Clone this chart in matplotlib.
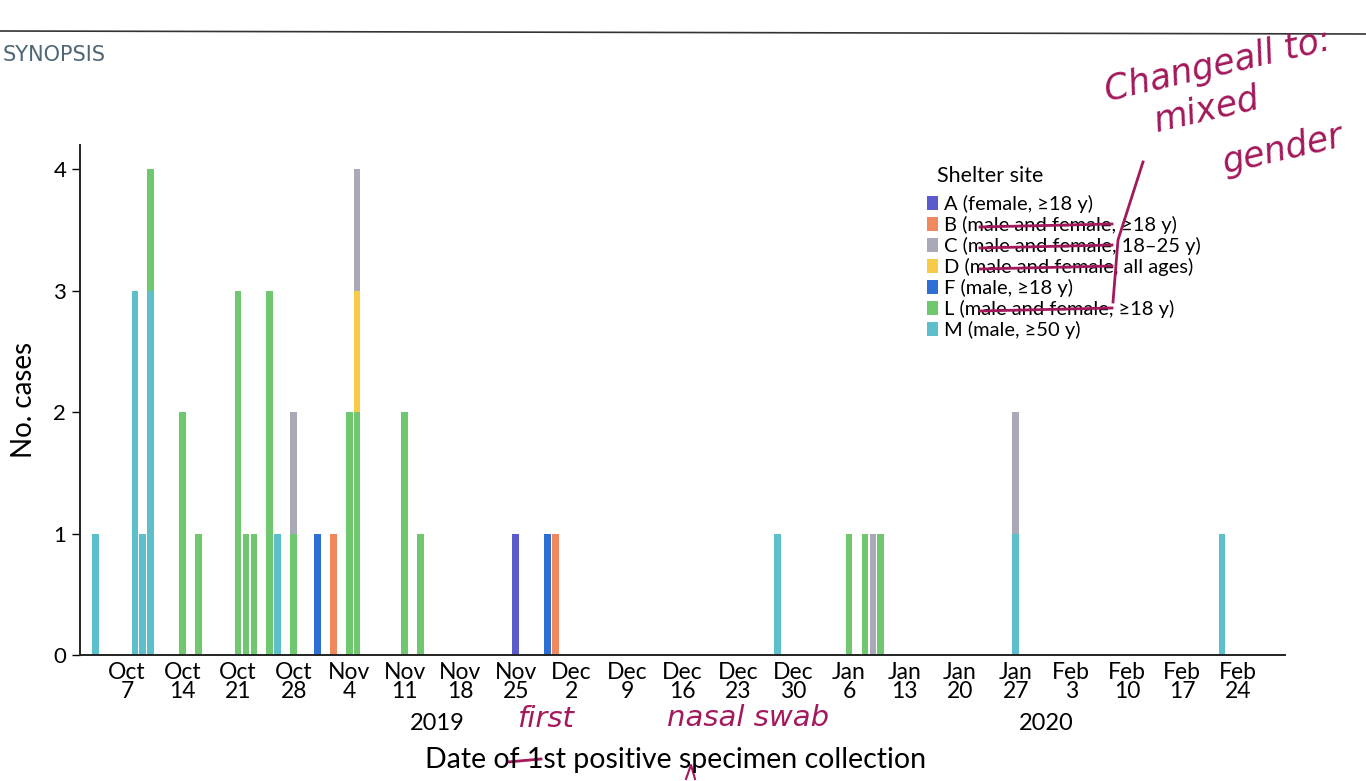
import matplotlib
matplotlib.use("Agg")
import matplotlib.pyplot as plt
import matplotlib.dates as mdates
import numpy as np
import pandas as pd

plt.rcParams['font.family'] = ['Lato', 'DejaVu Sans']

# shelter sites (legend order)
sites = ['A', 'B', 'C', 'D', 'F', 'L', 'M']
site_labels = ['A (female, \u226518 y)', 'B (male and female, \u226518 y)',
               'C (male and female, 18\u201325 y)', 'D (male and female, all ages)',
               'F (male, \u226518 y)', 'L (male and female, \u226518 y)', 'M (male, \u226550 y)']
site_colors = ['#5b5bcc', '#f0885e', '#a9a9b7', '#f7ca4a', '#2e6fd6', '#6fc86f', '#5cbfcb']

# one entry per case day: date, and cases per site
dates = ['2019-10-03', '2019-10-08', '2019-10-09', '2019-10-10', '2019-10-14',
         '2019-10-16', '2019-10-21', '2019-10-22', '2019-10-23', '2019-10-25',
         '2019-10-26', '2019-10-28', '2019-10-31', '2019-11-02', '2019-11-04',
         '2019-11-05', '2019-11-11', '2019-11-13', '2019-11-25', '2019-11-29',
         '2019-11-30', '2019-12-28', '2020-01-06', '2020-01-08', '2020-01-09',
         '2020-01-10', '2020-01-27', '2020-02-22']
cases_A = [0, 0, 0, 0, 0, 0, 0, 0, 0, 0, 0, 0, 0, 0, 0, 0, 0, 0, 1, 0, 0, 0, 0, 0, 0, 0, 0, 0]
cases_B = [0, 0, 0, 0, 0, 0, 0, 0, 0, 0, 0, 0, 0, 1, 0, 0, 0, 0, 0, 0, 1, 0, 0, 0, 0, 0, 0, 0]
cases_C = [0, 0, 0, 0, 0, 0, 0, 0, 0, 0, 0, 1, 0, 0, 0, 1, 0, 0, 0, 0, 0, 0, 0, 0, 1, 0, 1, 0]
cases_D = [0, 0, 0, 0, 0, 0, 0, 0, 0, 0, 0, 0, 0, 0, 0, 1, 0, 0, 0, 0, 0, 0, 0, 0, 0, 0, 0, 0]
cases_F = [0, 0, 0, 0, 0, 0, 0, 0, 0, 0, 0, 0, 1, 0, 0, 0, 0, 0, 0, 1, 0, 0, 0, 0, 0, 0, 0, 0]
cases_L = [0, 0, 0, 1, 2, 1, 3, 1, 1, 3, 0, 1, 0, 0, 2, 2, 2, 1, 0, 0, 0, 0, 1, 1, 0, 1, 0, 0]
cases_M = [1, 3, 1, 3, 0, 0, 0, 0, 0, 0, 1, 0, 0, 0, 0, 0, 0, 0, 0, 0, 0, 1, 0, 0, 0, 0, 1, 1]

# weekly tick labels
tick_dates = pd.date_range('2019-10-07', '2020-02-24', freq='7D')
tick_labels = [d.strftime('%b') + '\n' + str(d.day) for d in tick_dates]

df = pd.DataFrame({'A': cases_A, 'B': cases_B, 'C': cases_C, 'D': cases_D,
                   'F': cases_F, 'L': cases_L, 'M': cases_M},
                  index=pd.to_datetime(dates))
x = mdates.date2num(df.index.to_pydatetime())

fig = plt.figure(figsize=(13.66, 7.81), dpi=100)
ax = fig.add_axes([0.0586, 0.1613, 0.882, 0.6530])

# stack bottom to top: M, L, F, D, C, B, A
bottom = np.zeros(len(df))
handles = {}
for s in sites[::-1]:
    col = site_colors[sites.index(s)]
    vals = df[s].values
    h = ax.bar(x, vals, width=0.85, bottom=bottom, color=col, linewidth=0)
    handles[s] = h
    bottom += vals

ax.set_xlim(mdates.date2num(pd.Timestamp('2019-10-01 02:00')),
            mdates.date2num(pd.Timestamp('2020-02-29 22:00')))
ax.set_ylim(0, 4.2)
ax.set_yticks([0, 1, 2, 3, 4])
ax.tick_params(axis='y', labelsize=16, length=6, width=1, direction='out', pad=4)
ax.set_xticks(mdates.date2num(tick_dates.to_pydatetime()))
ax.set_xticklabels(tick_labels, fontsize=16.5, linespacing=0.9)
ax.tick_params(axis='x', length=0, pad=5)
for sp in ['top', 'right']:
    ax.spines[sp].set_visible(False)
for sp in ['left', 'bottom']:
    ax.spines[sp].set_linewidth(1.4)
    ax.spines[sp].set_color('#222222')

ax.set_ylabel('No. cases', fontsize=20, labelpad=12)

# year labels and x label
fig.text(437 / 1366, 1 - 723 / 781, '2019', fontsize=17, ha='center', va='center')
fig.text(1046 / 1366, 1 - 723 / 781, '2020', fontsize=17, ha='center', va='center')
fig.text(676 / 1366, 1 - 760 / 781, 'Date of 1st positive specimen collection',
         fontsize=20.5, ha='center', va='center')

leg = ax.legend([handles[s] for s in sites], site_labels,
                loc='upper left', bbox_to_anchor=(0.6945, 0.921), frameon=False,
                fontsize=14.5, handlelength=0.55, handleheight=0.7,
                handletextpad=0.3, labelspacing=0.14, borderpad=0.0)
fig.text(937 / 1366, 1 - 176 / 781, 'Shelter site', fontsize=15.5,
         ha='left', va='center')

# header
fig.add_artist(plt.Line2D([0, 1], [1 - 31 / 781, 1 - 34 / 781], color='#333333', lw=1.2))
fig.text(3 / 1366, 1 - 55 / 781, 'SYNOPSIS', fontsize=15, color='#4e6676',
         ha='left', va='center', family='DejaVu Sans')

# handwritten edits
ink = '#a3195b'
fig.text(1218 / 1366, 1 - 65 / 781, 'Changeall to:', fontsize=25, color=ink, style='italic',
         rotation=13, ha='center', va='center', family='DejaVu Sans')
fig.text(1207 / 1366, 1 - 110 / 781, 'mixed', fontsize=25, color=ink, style='italic',
         rotation=13, ha='center', va='center', family='DejaVu Sans')
fig.text(1283 / 1366, 1 - 150 / 781, 'gender', fontsize=25, color=ink, style='italic',
         rotation=13, ha='center', va='center', family='DejaVu Sans')
fig.text(545 / 1366, 1 - 719 / 781, 'first', fontsize=21, color=ink, style='italic',
         ha='center', va='center', family='DejaVu Sans')
fig.text(748 / 1366, 1 - 718 / 781, 'nasal swab', fontsize=21, color=ink, style='italic',
         ha='center', va='center', family='DejaVu Sans')
# strike lines in legend and x label
for y0 in [227, 248, 269, 311]:
    fig.add_artist(plt.Line2D([980 / 1366, 1112 / 1366], [1 - y0 / 781, 1 - (y0 - 3) / 781],
                              color=ink, lw=2))
fig.add_artist(plt.Line2D([1143 / 1366, 1118 / 1366, 1113 / 1366],
                          [1 - 162 / 781, 1 - 240 / 781, 1 - 302 / 781], color=ink, lw=2))
fig.add_artist(plt.Line2D([508 / 1366, 541 / 1366], [1 - 762 / 781, 1 - 759 / 781],
                          color=ink, lw=2))
fig.add_artist(plt.Line2D([686 / 1366, 691 / 1366, 695 / 1366],
                          [1 - 779 / 781, 1 - 765 / 781, 1 - 779 / 781], color=ink, lw=1.5))

fig.savefig('out.png', dpi=100)
